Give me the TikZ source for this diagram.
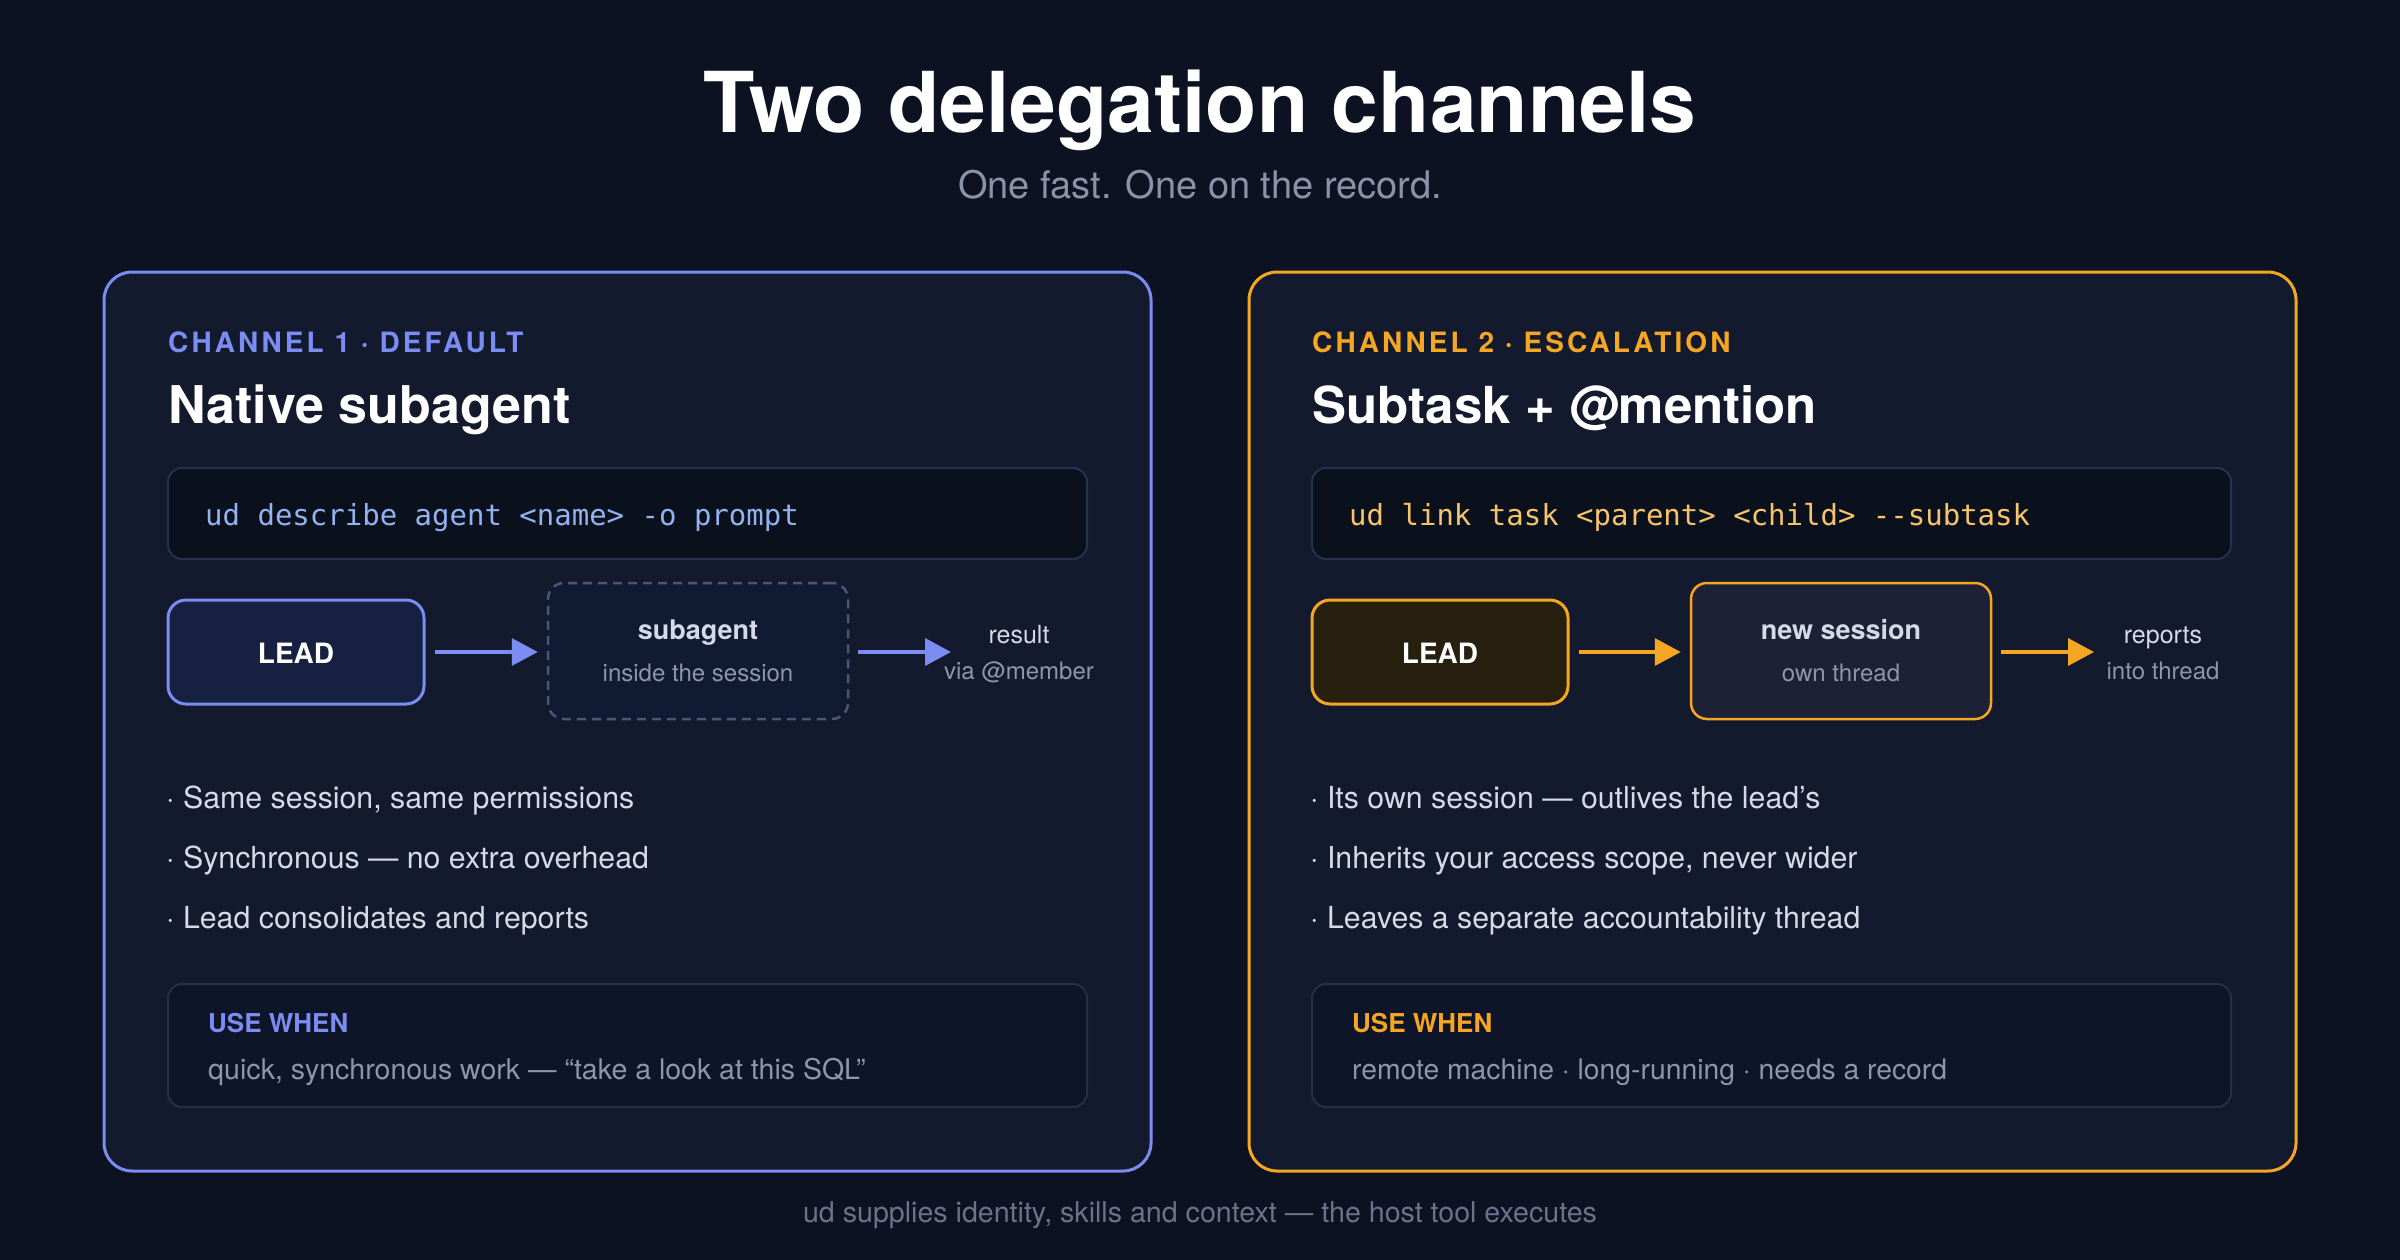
\documentclass[tikz,border=0pt]{standalone}
\usepackage{fontspec}
\setmainfont{TeX Gyre Heros}
\setmonofont{DejaVu Sans Mono}
\newfontfamily\spacedfont[LetterSpace=11]{TeX Gyre Heros}
\usetikzlibrary{arrows.meta}
\definecolor{bg}{HTML}{0C1221}
\definecolor{cardbg}{HTML}{131A2E}
\definecolor{blueacc}{HTML}{7B8CF2}
\definecolor{orangeacc}{HTML}{F5A623}
\definecolor{codebg}{HTML}{0B101D}
\definecolor{codeborder}{HTML}{283150}
\definecolor{bluecode}{HTML}{93B2F2}
\definecolor{orangecode}{HTML}{F7C46C}
\definecolor{leadblue}{HTML}{162040}
\definecolor{leadorange}{HTML}{27200F}
\definecolor{subfill}{HTML}{111A33}
\definecolor{subdash}{HTML}{4B5675}
\definecolor{sessfill}{HTML}{1C2136}
\definecolor{usebg}{HTML}{0F1528}
\definecolor{useborder}{HTML}{262F4A}
\definecolor{txtlight}{HTML}{D5DAE8}
\definecolor{txtmuted}{HTML}{8E96AB}
\definecolor{txtfoot}{HTML}{6B738C}
\definecolor{subtitlecol}{HTML}{8B93A8}
\newcommand{\myfs}[1]{\fontsize{#1}{#1}\selectfont}
\tikzset{
  card/.style={draw, line width=3pt, fill=cardbg, rounded corners=28pt, inner sep=0pt},
  codebox/.style={draw=codeborder, line width=2pt, fill=codebg, rounded corners=14pt, inner sep=0pt},
  usebox/.style={draw=useborder, line width=2pt, fill=usebg, rounded corners=14pt, inner sep=0pt},
  leadbox/.style={line width=3pt, rounded corners=18pt, inner sep=0pt, minimum width=256pt, minimum height=104pt},
  sessbox/.style={line width=2.5pt, rounded corners=16pt, inner sep=0pt, minimum width=300pt, minimum height=136pt},
  txt/.style={anchor=base west, inner sep=0pt},
  ctxt/.style={anchor=base, inner sep=0pt},
  flowarrow/.style={line width=3.5pt, -{Triangle[length=26pt,width=27pt]}, shorten <=9pt},
}
\begin{document}
\begin{tikzpicture}[x=1pt,y=-1pt]
\fill[bg] (0,0) rectangle (2400,1260);
\useasboundingbox (0,0) rectangle (2400,1260);

% header
\node[ctxt, text=white] (title) at (1200,133) {\myfs{84}\bfseries Two delegation channels};
\node[ctxt, text=subtitlecol] (subtitle) at (1200,198) {\myfs{38}One fast. One on the record.};

% ---------- channel 1 ----------
\node[card, draw=blueacc, minimum width=1047pt, minimum height=899pt] (card1) at (627.5,721.5) {};
\node[txt, text=blueacc] (lab1) at (168,352) {\spacedfont\myfs{28}\bfseries CHANNEL 1 · DEFAULT};
\node[txt, text=white] (head1) at (168,423) {\myfs{52}\bfseries Native subagent};
\node[codebox, minimum width=919pt, minimum height=91pt] (code1) at (627.5,513.5) {};
\node[txt, text=bluecode] (codetxt1) at (205,525) {\myfs{29}\ttfamily ud describe agent <name> -o prompt};

\node[leadbox, draw=blueacc, fill=leadblue] (lead1) at (296,652) {};
\node[ctxt, text=white] (leadtxt1) at (296,663) {\myfs{28}\bfseries LEAD};
\node[sessbox, draw=subdash, fill=subfill, dash pattern=on 9pt off 6pt] (sub1) at (698,651) {};
\node[ctxt, text=txtlight] (subtxt1) at (698,639) {\myfs{27}\bfseries subagent};
\node[ctxt, text=txtmuted] (subtxt1b) at (698,681) {\myfs{24}inside the session};
\coordinate (res1) at (951,652);
\node[ctxt, text=txtlight] (restxt1) at (1019,643) {\myfs{25}result};
\node[ctxt, text=txtmuted] (restxt1b) at (1019,679) {\myfs{24}via @member};
\draw[flowarrow, blueacc, shorten >=9pt] (lead1.east) -- (sub1.west |- lead1.east);
\draw[flowarrow, blueacc] (sub1.east |- res1) -- (res1);

\node[txt, text=txtlight] (b11) at (166,808) {\myfs{30.3}· Same session, same permissions};
\node[txt, text=txtlight] (b12) at (166,868) {\myfs{30.3}· Synchronous — no extra overhead};
\node[txt, text=txtlight] (b13) at (166,928) {\myfs{30.3}· Lead consolidates and reports};

\node[usebox, minimum width=919pt, minimum height=123pt] (use1) at (627.5,1045.5) {};
\node[txt, text=blueacc] (uselab1) at (208,1032) {\myfs{26}\bfseries USE WHEN};
\node[txt, text=txtmuted] (usetxt1) at (208,1079) {\myfs{28.5}quick, synchronous work — “take a look at this SQL”};

% ---------- channel 2 ----------
\node[card, draw=orangeacc, minimum width=1047pt, minimum height=899pt] (card2) at (1772.5,721.5) {};
\node[txt, text=orangeacc] (lab2) at (1312,352) {\spacedfont\myfs{28}\bfseries CHANNEL 2 · ESCALATION};
\node[txt, text=white] (head2) at (1312,423) {\myfs{51}\bfseries Subtask + @mention};
\node[codebox, minimum width=919pt, minimum height=91pt] (code2) at (1771.5,513.5) {};
\node[txt, text=orangecode] (codetxt2) at (1349,525) {\myfs{29}\ttfamily ud link task <parent> <child> --subtask};

\node[leadbox, draw=orangeacc, fill=leadorange] (lead2) at (1440,652) {};
\node[ctxt, text=white] (leadtxt2) at (1440,663) {\myfs{28}\bfseries LEAD};
\node[sessbox, draw=orangeacc, fill=sessfill] (sub2) at (1841,651) {};
\node[ctxt, text=txtlight] (subtxt2) at (1841,639) {\myfs{27}\bfseries new session};
\node[ctxt, text=txtmuted] (subtxt2b) at (1841,681) {\myfs{24}own thread};
\coordinate (res2) at (2094,652);
\node[ctxt, text=txtlight] (restxt2) at (2163,643) {\myfs{25}reports};
\node[ctxt, text=txtmuted] (restxt2b) at (2163,679) {\myfs{24}into thread};
\draw[flowarrow, orangeacc, shorten >=9pt] (lead2.east) -- (sub2.west |- lead2.east);
\draw[flowarrow, orangeacc] (sub2.east |- res2) -- (res2);

\node[txt, text=txtlight] (b21) at (1310,808) {\myfs{30.3}· Its own session — outlives the lead’s};
\node[txt, text=txtlight] (b22) at (1310,868) {\myfs{30.3}· Inherits your access scope, never wider};
\node[txt, text=txtlight] (b23) at (1310,928) {\myfs{30.3}· Leaves a separate accountability thread};

\node[usebox, minimum width=919pt, minimum height=123pt] (use2) at (1771.5,1045.5) {};
\node[txt, text=orangeacc] (uselab2) at (1352,1032) {\myfs{26}\bfseries USE WHEN};
\node[txt, text=txtmuted] (usetxt2) at (1352,1079) {\myfs{28.3}remote machine · long-running · needs a record};

% footer
\node[ctxt, text=txtfoot] (foot) at (1200,1222) {\myfs{28.6}ud supplies identity, skills and context — the host tool executes};
\end{tikzpicture}
\end{document}
